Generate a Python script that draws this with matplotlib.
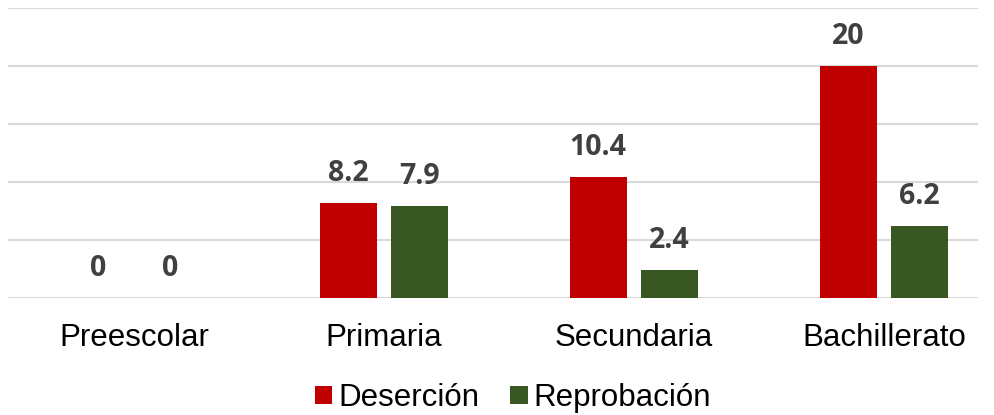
import numpy as np
import matplotlib.pyplot as plt

categorias = ["Preescolar", "Primaria", "Secundaria", "Bachillerato"]
desercion = [0, 8.2, 10.4, 20]
reprobacion = [0, 7.9, 2.4, 6.2]
etiquetas_des = ["0", "8.2", "10.4", "20"]
etiquetas_rep = ["0", "7.9", "2.4", "6.2"]

rojo = "#C00000"
verde = "#385723"

fig = plt.figure(figsize=(9.95, 4.15), dpi=100)
ax = fig.add_axes([8/995, (415-298)/415, 970/995, 290/415])

x = np.arange(len(categorias))
w = 0.228
off = 0.143
b1 = ax.bar(x - off, desercion, w, color=rojo, label="Deserción", zorder=3)
b2 = ax.bar(x + off, reprobacion, w, color=verde, label="Reprobación", zorder=3)

for barras, etq in ((b1, etiquetas_des), (b2, etiquetas_rep)):
    for b, t in zip(barras, etq):
        ax.annotate(t, (b.get_x() + b.get_width()/2, b.get_height()),
                    xytext=(0, 11), textcoords="offset points",
                    ha="center", va="bottom", fontsize=20.5, fontweight="bold",
                    color="#404040", family="Open Sans")

ax.set_ylim(0, 25)
ax.set_xlim(-0.504, 3.376)
ax.set_yticks([0, 5, 10, 15, 20, 25])
ax.set_yticklabels([])
ax.tick_params(axis="y", length=0)
ax.tick_params(axis="x", length=0, pad=18)
ax.set_xticks(x)
ax.set_xticklabels(categorias, fontsize=22.5, family="Liberation Sans")
ax.grid(axis="y", color="#d9d9d9", linewidth=1.5, zorder=0)
for s in ax.spines.values():
    s.set_visible(False)

leg = fig.legend(loc="center", bbox_to_anchor=(513/995, 1 - 398/415), ncol=2,
                 frameon=False, prop={"family": "Liberation Sans", "size": 22.5},
                 handlelength=0.55, handleheight=0.55, handletextpad=0.2,
                 columnspacing=1.0)

fig.savefig("out.png", dpi=100)
